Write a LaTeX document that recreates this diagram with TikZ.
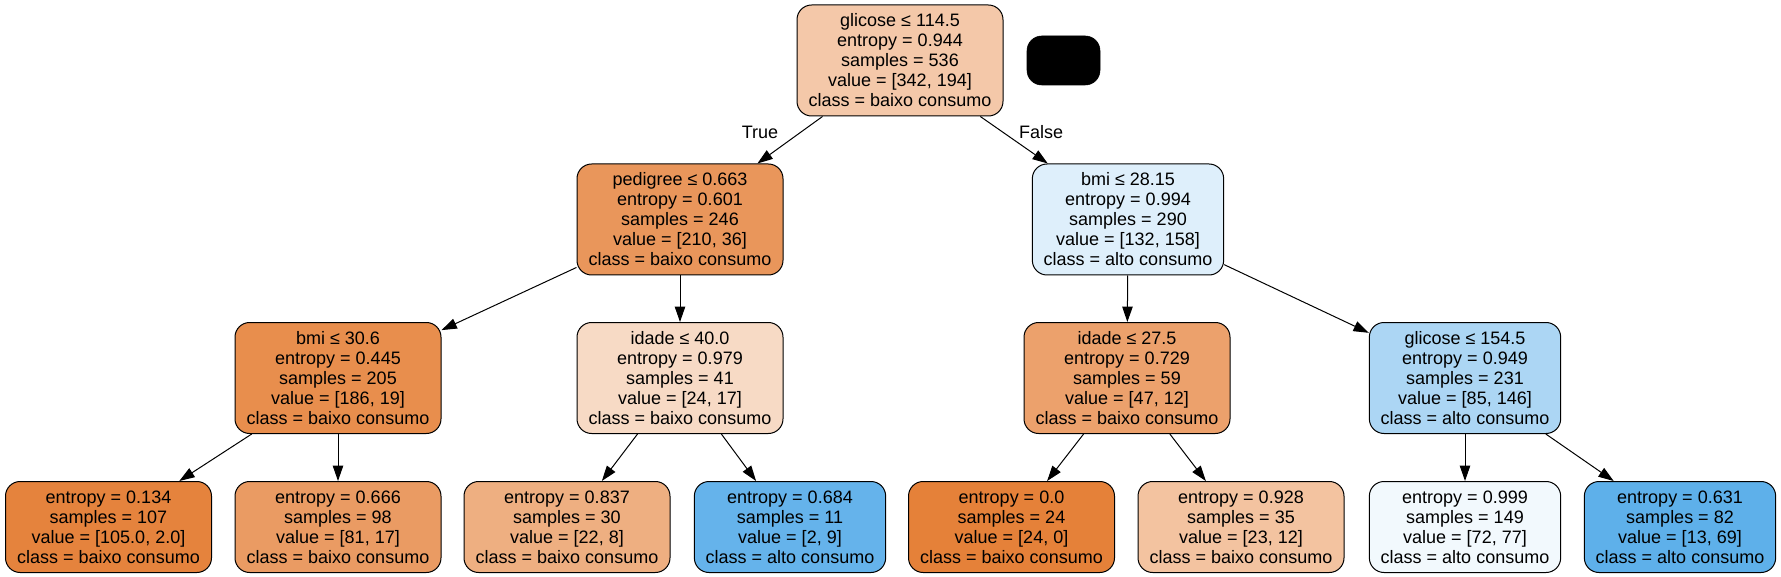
\documentclass[tikz,border=0pt]{standalone}
\usepackage{fontspec}
\setmainfont{Liberation Sans}
\usetikzlibrary{arrows.meta}
\definecolor{cRoot}{RGB}{244,200,169}
\definecolor{cPed}{RGB}{233,150,91}
\definecolor{cBmiA}{RGB}{222,239,251}
\definecolor{cBmiB}{RGB}{232,142,77}
\definecolor{cIdA}{RGB}{247,218,197}
\definecolor{cIdB}{RGB}{236,161,108}
\definecolor{cGl}{RGB}{172,214,244}
\definecolor{cLa}{RGB}{229,131,61}
\definecolor{cLb}{RGB}{234,155,99}
\definecolor{cLc}{RGB}{238,175,129}
\definecolor{cLd}{RGB}{101,179,235}
\definecolor{cLe}{RGB}{229,129,57}
\definecolor{cLf}{RGB}{243,195,160}
\definecolor{cLg}{RGB}{242,249,253}
\definecolor{cLh}{RGB}{94,176,234}
\tikzset{
  tnode/.style={draw=black, line width=0.75pt, rounded corners=11pt, align=center,
    inner sep=0pt, font=\fontsize{13.5}{15}\selectfont},
  inner/.style={tnode, minimum height=83.25pt},
  leaf/.style={tnode, minimum height=68.25pt},
  wideb/.style={minimum width=154.5pt},
  widea/.style={minimum width=143.5pt},
  edge/.style={line width=0.75pt, -{Triangle[length=11.5pt,width=7.8pt]}},
  elabel/.style={font=\fontsize{13.5}{15}\selectfont, inner sep=0pt},
}
\begin{document}
\begin{tikzpicture}[x=0.75pt, y=-0.75pt]
\useasboundingbox (0,0) rectangle (1781,577);
\node[inner, wideb, fill=cRoot] (root) at (900,60.5)
  {glicose ≤ 114.5\\entropy = 0.944\\samples = 536\\value = [342, 194]\\class = baixo consumo};
\node[draw=black, fill=black, rounded corners=11pt, minimum width=54.75pt, minimum height=36.75pt, inner sep=0pt] (blk) at (1063.5,60.5) {};
\node[inner, wideb, fill=cPed] (ped) at (680,219.5)
  {pedigree ≤ 0.663\\entropy = 0.601\\samples = 246\\value = [210, 36]\\class = baixo consumo};
\node[inner, widea, fill=cBmiA] (bmiA) at (1128,219.5)
  {bmi ≤ 28.15\\entropy = 0.994\\samples = 290\\value = [132, 158]\\class = alto consumo};
\node[inner, wideb, fill=cBmiB] (bmiB) at (338,378)
  {bmi ≤ 30.6\\entropy = 0.445\\samples = 205\\value = [186, 19]\\class = baixo consumo};
\node[inner, wideb, fill=cIdA] (idA) at (680,378)
  {idade ≤ 40.0\\entropy = 0.979\\samples = 41\\value = [24, 17]\\class = baixo consumo};
\node[inner, wideb, fill=cIdB] (idB) at (1127,378)
  {idade ≤ 27.5\\entropy = 0.729\\samples = 59\\value = [47, 12]\\class = baixo consumo};
\node[inner, widea, fill=cGl] (gl) at (1465,378)
  {glicose ≤ 154.5\\entropy = 0.949\\samples = 231\\value = [85, 146]\\class = alto consumo};
\node[leaf, wideb, fill=cLa] (la) at (108.5,527)
  {entropy = 0.134\\samples = 107\\value = [105.0, 2.0]\\class = baixo consumo};
\node[leaf, wideb, fill=cLb] (lb) at (338,527)
  {entropy = 0.666\\samples = 98\\value = [81, 17]\\class = baixo consumo};
\node[leaf, wideb, fill=cLc] (lc) at (567,527)
  {entropy = 0.837\\samples = 30\\value = [22, 8]\\class = baixo consumo};
\node[leaf, widea, fill=cLd] (ld) at (790,527)
  {entropy = 0.684\\samples = 11\\value = [2, 9]\\class = alto consumo};
\node[leaf, wideb, fill=cLe] (le) at (1011.5,527)
  {entropy = 0.0\\samples = 24\\value = [24, 0]\\class = baixo consumo};
\node[leaf, wideb, fill=cLf] (lf) at (1241,527)
  {entropy = 0.928\\samples = 35\\value = [23, 12]\\class = baixo consumo};
\node[leaf, widea, fill=cLg] (lg) at (1465,527)
  {entropy = 0.999\\samples = 149\\value = [72, 77]\\class = alto consumo};
\node[leaf, widea, fill=cLh] (lh) at (1680,527)
  {entropy = 0.631\\samples = 82\\value = [13, 69]\\class = alto consumo};
\draw[edge] (root) -- (ped);
\draw[edge] (root) -- (bmiA);
\draw[edge] (ped) -- (bmiB);
\draw[edge] (ped) -- (idA);
\draw[edge] (bmiA) -- (idB);
\draw[edge] (bmiA) -- (gl);
\draw[edge] (bmiB) -- (la);
\draw[edge] (bmiB) -- (lb);
\draw[edge] (idA) -- (lc);
\draw[edge] (idA) -- (ld);
\draw[edge] (idB) -- (le);
\draw[edge] (idB) -- (lf);
\draw[edge] (gl) -- (lg);
\draw[edge] (gl) -- (lh);
\node[elabel] (ltrue) at (760,132) {True};
\node[elabel] (lfalse) at (1041,132) {False};
\end{tikzpicture}
\end{document}
